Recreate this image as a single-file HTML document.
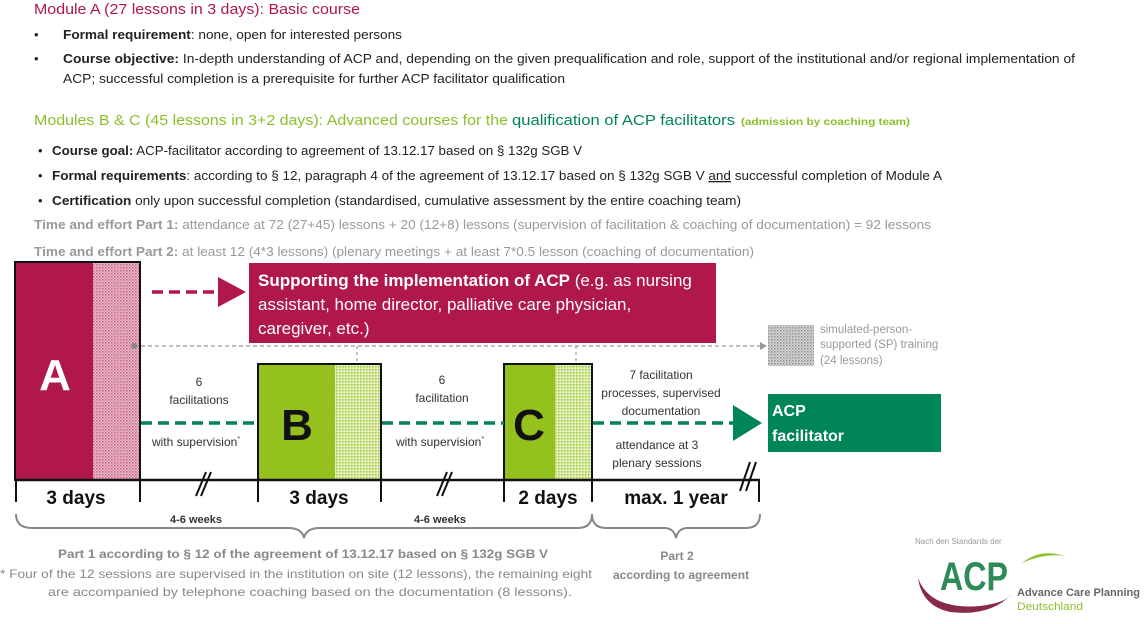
<!DOCTYPE html>
<html><head><meta charset="utf-8"><style>
html,body{margin:0;padding:0;background:#fff;}
svg{display:block;font-family:"Liberation Sans",sans-serif;}
</style></head><body>
<svg width="1148" height="624" viewBox="0 0 1148 624" xmlns="http://www.w3.org/2000/svg">
<defs>
<pattern id="pa" width="3" height="3" patternUnits="userSpaceOnUse"><rect width="3" height="3" fill="#ecc3d1"/><rect width="1.5" height="1.5" fill="#c65a80"/><rect x="1.5" y="1.5" width="1.5" height="1.5" fill="#d98aa6"/></pattern>
<pattern id="pg" width="3" height="3" patternUnits="userSpaceOnUse"><rect width="3" height="3" fill="#d6e9a6"/><rect width="1.5" height="1.5" fill="#a9cc45"/><rect x="1.5" y="1.5" width="1.5" height="1.5" fill="#eef6d8"/></pattern>
<pattern id="pk" width="3" height="3" patternUnits="userSpaceOnUse"><rect width="3" height="3" fill="#dcdcdc"/><rect width="1.5" height="1.5" fill="#8a8a8a"/><rect x="1.5" y="1.5" width="1.5" height="1.5" fill="#b5b5b5"/></pattern>
</defs>

<!-- top text -->
<text x="34" y="14" font-size="15" fill="#b0174b" textLength="326" lengthAdjust="spacingAndGlyphs">Module A (27 lessons in 3 days): Basic course</text>
<g font-size="13" fill="#222">
<text x="34" y="39">•</text>
<text x="63" y="39" textLength="339" lengthAdjust="spacingAndGlyphs"><tspan font-weight="bold">Formal requirement</tspan>: none, open for interested persons</text>
<text x="34" y="63">•</text>
<text x="63" y="63" textLength="1012" lengthAdjust="spacingAndGlyphs"><tspan font-weight="bold">Course objective:</tspan> In-depth understanding of ACP and, depending on the given prequalification and role, support of the institutional and/or regional implementation of</text>
<text x="63" y="83" textLength="502" lengthAdjust="spacingAndGlyphs">ACP; successful completion is a prerequisite for further ACP facilitator qualification</text>
</g>
<text x="34" y="125" font-size="15" fill="#8dbf2a" textLength="474" lengthAdjust="spacingAndGlyphs">Modules B &amp; C (45 lessons in 3+2 days): Advanced courses for the</text>
<text x="512" y="125" font-size="15" fill="#00845a" textLength="223" lengthAdjust="spacingAndGlyphs">qualification of ACP facilitators</text>
<text x="741" y="125" font-size="10" font-weight="bold" fill="#8dbf2a" textLength="169" lengthAdjust="spacingAndGlyphs">(admission by coaching team)</text>
<g font-size="13" fill="#222">
<text x="38" y="155">•</text>
<text x="52" y="155" textLength="530" lengthAdjust="spacingAndGlyphs"><tspan font-weight="bold">Course goal:</tspan> ACP-facilitator according to agreement of 13.12.17 based on § 132g SGB V</text>
<text x="38" y="180">•</text>
<text x="52" y="180" textLength="890" lengthAdjust="spacingAndGlyphs"><tspan font-weight="bold">Formal requirements</tspan>: according to § 12, paragraph 4 of the agreement of 13.12.17 based on § 132g SGB V <tspan text-decoration="underline">and</tspan> successful completion of Module A</text>
<text x="38" y="205">•</text>
<text x="52" y="205" textLength="689" lengthAdjust="spacingAndGlyphs"><tspan font-weight="bold">Certification</tspan> only upon successful completion (standardised, cumulative assessment by the entire coaching team)</text>
</g>
<g font-size="13" fill="#999">
<text x="34" y="229" textLength="897" lengthAdjust="spacingAndGlyphs"><tspan font-weight="bold">Time and effort Part 1:</tspan> attendance at 72 (27+45) lessons + 20 (12+8) lessons (supervision of  facilitation &amp; coaching of documentation) = 92 lessons</text>
<text x="34" y="256" textLength="720" lengthAdjust="spacingAndGlyphs"><tspan font-weight="bold">Time and effort Part 2:</tspan> at least 12 (4*3 lessons) (plenary meetings + at least 7*0.5 lesson (coaching of documentation)</text>
</g>

<!-- A box -->
<rect x="16" y="263" width="77" height="217" fill="#b0174b"/>
<rect x="93" y="263" width="47" height="217" fill="url(#pa)"/>
<rect x="15" y="262" width="125" height="218" fill="none" stroke="#111" stroke-width="2"/>
<text x="55" y="390" font-size="44" font-weight="bold" fill="#fff" text-anchor="middle">A</text>

<!-- gray dashed SP line -->
<line x1="134" y1="346" x2="760" y2="346" stroke="#999" stroke-width="1.3" stroke-dasharray="4,3"/>
<polygon points="760,342 767,346 760,350" fill="#999"/>
<circle cx="134" cy="346" r="3" fill="#888"/>
<line x1="357" y1="346" x2="357" y2="364" stroke="#999" stroke-width="1.2" stroke-dasharray="3,3"/>
<line x1="576" y1="346" x2="576" y2="364" stroke="#999" stroke-width="1.2" stroke-dasharray="3,3"/>
<rect x="768" y="325" width="46" height="41" fill="url(#pk)"/>
<g font-size="11.5" fill="#999"><text x="820" y="333">simulated-person-</text><text x="820" y="348">supported (SP) training</text><text x="820" y="364">(24 lessons)</text></g>

<!-- magenta arrow -->
<line x1="152" y1="292" x2="218" y2="292" stroke="#b0174b" stroke-width="3.5" stroke-dasharray="11,6"/>
<polygon points="218,277 246,292 218,307" fill="#b0174b"/>
<rect x="249" y="263" width="467" height="80" fill="#b0174b"/>
<g font-size="17" fill="#fff">
<text x="258" y="286"><tspan font-weight="bold">Supporting the implementation of ACP</tspan> (e.g. as nursing</text>
<text x="258" y="310">assistant, home director, palliative care physician,</text>
<text x="258" y="334">caregiver, etc.)</text>
</g>

<!-- B box -->
<rect x="259" y="365" width="76" height="115" fill="#95c11f"/>
<rect x="335" y="365" width="46" height="115" fill="url(#pg)"/>
<rect x="258" y="364" width="123" height="116" fill="none" stroke="#111" stroke-width="2"/>
<!-- C box -->
<rect x="505" y="365" width="50" height="115" fill="#95c11f"/>
<rect x="555" y="365" width="37" height="115" fill="url(#pg)"/>
<rect x="504" y="364" width="88" height="116" fill="none" stroke="#111" stroke-width="2"/>
<text x="297" y="440" font-size="44" font-weight="bold" fill="#111" text-anchor="middle">B</text>
<text x="529" y="440" font-size="44" font-weight="bold" fill="#111" text-anchor="middle">C</text>

<!-- green dashed -->
<g stroke="#00845a" stroke-width="3.5" stroke-dasharray="11,6">
<line x1="141" y1="423" x2="258" y2="423"/>
<line x1="382" y1="423" x2="504" y2="423"/>
<line x1="593" y1="423" x2="735" y2="423"/>
</g>
<polygon points="733,405 762,423 733,441" fill="#00845a"/>
<rect x="768" y="394" width="173" height="58" fill="#00845a"/>
<g font-size="16" font-weight="bold" fill="#fff"><text x="772" y="416">ACP</text><text x="772" y="441">facilitator</text></g>

<g font-size="12" fill="#333" text-anchor="middle">
<text x="199" y="386">6</text><text x="199" y="404">facilitations</text>
<text x="196" y="446">with supervision<tspan font-size="7" dy="-5">*</tspan></text>
<text x="442" y="384">6</text><text x="442" y="402">facilitation</text>
<text x="440" y="446">with supervision<tspan font-size="7" dy="-5">*</tspan></text>
<text x="661" y="379">7 facilitation</text><text x="661" y="397">processes, supervised</text><text x="661" y="415">documentation</text>
<text x="657" y="449">attendance at 3</text><text x="657" y="467">plenary sessions</text>
</g>

<!-- timeline -->
<line x1="15" y1="480" x2="760" y2="480" stroke="#111" stroke-width="2.5"/>
<g stroke="#111" stroke-width="2">
<line x1="16" y1="480" x2="16" y2="502"/><line x1="140" y1="480" x2="140" y2="502"/>
<line x1="258" y1="480" x2="258" y2="502"/><line x1="381" y1="480" x2="381" y2="502"/>
<line x1="504" y1="480" x2="504" y2="502"/><line x1="592" y1="480" x2="592" y2="502"/>
<line x1="759" y1="480" x2="759" y2="502"/>
<line x1="196" y1="496" x2="206" y2="472"/><line x1="201" y1="496" x2="211" y2="472"/>
<line x1="437" y1="496" x2="447" y2="472"/><line x1="442" y1="496" x2="452" y2="472"/>
<line x1="740" y1="491" x2="750" y2="462"/><line x1="746" y1="491" x2="756" y2="462"/>
</g>
<g font-size="19" font-weight="bold" fill="#111" text-anchor="middle">
<text x="76" y="504">3 days</text><text x="319" y="504">3 days</text><text x="548" y="504">2 days</text><text x="676" y="504">max. 1 year</text>
</g>
<g font-size="11" font-weight="bold" fill="#333" text-anchor="middle"><text x="196" y="523">4-6 weeks</text><text x="440" y="523">4-6 weeks</text></g>

<!-- braces -->
<path d="M16,514 Q16,528 32,528 L288,528 Q302,528 304,538 Q306,528 320,528 L578,528 Q592,528 592,514" fill="none" stroke="#888" stroke-width="2"/>
<path d="M592,514 Q592,528 606,528 L664,528 Q674,528 676,538 Q678,528 688,528 L746,528 Q760,528 760,514" fill="none" stroke="#888" stroke-width="2"/>

<g font-size="12" fill="#888" text-anchor="middle">
<text x="303" y="558" font-weight="bold" textLength="490" lengthAdjust="spacingAndGlyphs">Part 1 according to § 12 of the agreement of 13.12.17 based on § 132g SGB V</text>
<text x="296" y="578" textLength="592" lengthAdjust="spacingAndGlyphs">* Four of the 12 sessions are supervised in the institution on site (12 lessons), the remaining eight</text>
<text x="310" y="596" textLength="524" lengthAdjust="spacingAndGlyphs">are accompanied by telephone coaching based on the documentation (8 lessons).</text>
<text x="677" y="560" font-weight="bold">Part 2</text>
<text x="681" y="579" font-weight="bold">according to agreement</text>
</g>

<!-- logo -->
<text x="915" y="544" font-size="8" fill="#999">Nach den Standards der</text>
<path d="M918,578 Q930,610 980,606 Q1005,603 1012,594 Q990,617 950,612 Q922,606 918,578 Z" fill="#8a2a4a"/>
<path d="M1022,563 Q1040,548 1065,556 Q1045,553 1022,563 Z" fill="#8dbf2a"/>
<text x="940" y="590" font-size="40" font-weight="bold" fill="#2e8a57" textLength="68" lengthAdjust="spacingAndGlyphs">ACP</text>
<text x="1017" y="596" font-size="11" font-weight="bold" fill="#666" textLength="123" lengthAdjust="spacingAndGlyphs">Advance Care Planning</text>
<text x="1017" y="610" font-size="11" fill="#8dbf2a" textLength="66" lengthAdjust="spacingAndGlyphs">Deutschland</text>
</svg>
</body></html>
